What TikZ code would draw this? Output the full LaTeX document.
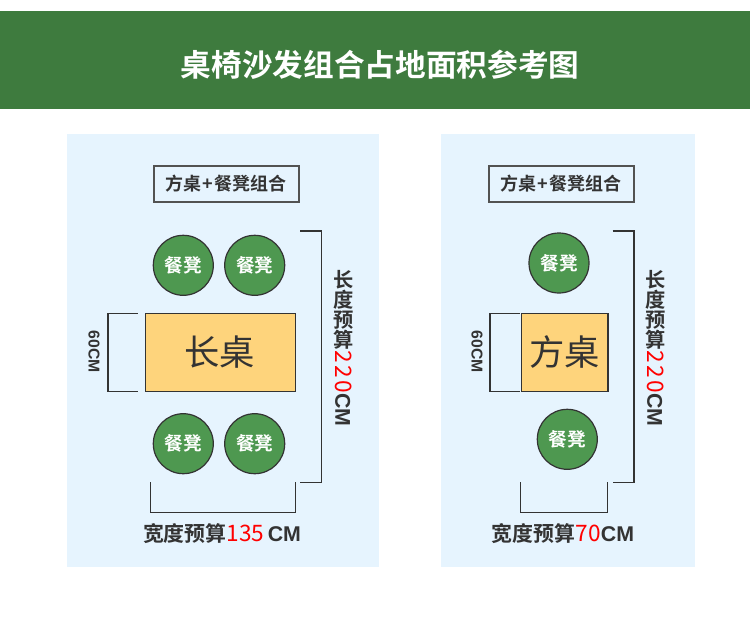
\documentclass[tikz,border=0pt]{standalone}
\usepackage{fontspec}
\newfontfamily\cjkb{Noto Sans CJK SC Bold}
\newfontfamily\cjkr{Noto Sans CJK SC}
\newfontfamily\latr{Liberation Sans}
\definecolor{hdr}{HTML}{3E7B3E}
\definecolor{pnl}{HTML}{E6F4FE}
\definecolor{grn}{HTML}{4E9850}
\definecolor{tbl}{HTML}{FED47C}
\definecolor{ink}{HTML}{333333}
\definecolor{redn}{HTML}{FF0000}
\tikzset{
 panel/.style={fill=pnl,draw=none,minimum width=#1,minimum height=433*0.75pt,inner sep=0pt,outer sep=0pt,anchor=north west},
 titlebox/.style={draw=ink!85,line width=1.2pt,minimum width=145*0.75pt,minimum height=36*0.75pt,inner sep=0pt,outer sep=0pt,text=ink,font=\cjkb\fontsize{13.5pt}{14pt}\selectfont},
 stool/.style={circle,draw=ink,line width=0.9pt,fill=grn,minimum size=60*0.75pt,inner sep=0pt,outer sep=0pt,text=white,font=\cjkb\fontsize{14pt}{14pt}\selectfont},
 tabletop/.style={draw=ink,line width=0.9pt,fill=tbl,inner sep=0pt,outer sep=0pt,anchor=north west,minimum height=78.5*0.75pt,text=ink,font=\cjkr\fontsize{26.5pt}{27pt}\selectfont},
 brk/.style={draw=ink,line width=1pt},
 lbl/.style={text=ink,inner sep=0pt,font=\cjkb\fontsize{15.7pt}{16pt}\selectfont},
 stacked/.style={text=ink,inner sep=0pt,align=center,font=\cjkb\fontsize{15.2pt}{15pt}\selectfont},
 small/.style={text=ink,inner sep=0pt,rotate=-90,font=\latr\bfseries\fontsize{11.8pt}{12pt}\selectfont},
}
\newcommand{\rd}[1]{{\cjkr\fontsize{17pt}{17pt}\selectfont\color{redn}#1}}
\newcommand{\cmb}{{\latr\bfseries\fontsize{16pt}{16pt}\selectfont CM}}
\newcommand{\dgap}{\kern1.7pt}
\begin{document}
\begin{tikzpicture}[x=0.75pt,y=-0.75pt]
\useasboundingbox (0,0) rectangle (750,640);
\fill[white] (0,0) rectangle (750,640);
\node[fill=hdr,minimum width=750*0.75pt,minimum height=98*0.75pt,inner sep=0pt,outer sep=0pt,anchor=north west] (header) at (0,11) {};
\node[text=white,inner sep=0pt,font=\cjkb\fontsize{23pt}{24pt}\selectfont] (title) at (380,64.5) {桌椅沙发组合占地面积参考图};
% left panel
\node[panel=312*0.75pt] (pa) at (67,134) {};
\node[titlebox] (ta) at (226.2,183.7) {方桌\kern1pt+\kern1pt餐凳组合};
\node[stool] (a1) at (183.3,265.3) {餐凳};
\node[stool] (a2) at (254.7,265.3) {餐凳};
\node[stool] (a3) at (183.3,443.7) {餐凳};
\node[stool] (a4) at (254.7,443.7) {餐凳};
\node[tabletop,minimum width=150*0.75pt] (ka) at (145.7,313.3) {\raisebox{2.5pt}{长桌}\kern1.5pt};
\coordinate (a1s) at (137.7,313.3);
\coordinate (a1e) at (137.7,391.5);
\draw[brk] (a1s) -- (108,313.3) -- (108,391.5) -- (a1e);
\coordinate (a2s) at (300,231);
\coordinate (a2e) at (300,482.7);
\draw[brk] (a2s) -- (321.7,231) -- (321.7,482.7) -- (a2e);
\coordinate (a3s) at (150.7,482.3);
\coordinate (a3e) at (295.3,482.3);
\draw[brk] (a3s) -- (150.7,512.3) -- (295.3,512.3) -- (a3e);
\node[small] (sa) at (94,351.7) {60CM};
\node[stacked] (va) at (343.5,310) {长\\度\\预\\算};
\node[lbl,rotate=-90] (vaa) at (343.5,388.5) {\rd{2\dgap 2\dgap 0}\cmb};
\node[lbl] (ba) at (222,534) {宽度预算\rd{135}\kern2.5pt\cmb};
% right panel
\node[panel=254.3*0.75pt] (pb) at (440.7,134) {};
\node[titlebox] (tb) at (561.2,183.7) {方桌\kern1pt+\kern1pt餐凳组合};
\node[stool] (b1) at (559,263) {餐凳};
\node[stool] (b2) at (567.3,439.3) {餐凳};
\node[tabletop,minimum width=86.3*0.75pt] (kb) at (521.7,313.3) {\raisebox{2.5pt}{方桌}};
\coordinate (b1s) at (520,313.3);
\coordinate (b1e) at (520,391.5);
\draw[brk] (b1s) -- (490,313.3) -- (490,391.5) -- (b1e);
\coordinate (b2s) at (612.7,231);
\coordinate (b2e) at (612.7,482.7);
\draw[brk] (b2s) -- (634,231) -- (634,482.7) -- (b2e);
\coordinate (b3s) at (520.3,482.3);
\coordinate (b3e) at (607.3,482.3);
\draw[brk] (b3s) -- (520.3,512.3) -- (607.3,512.3) -- (b3e);
\node[small] (sb) at (477,351.7) {60CM};
\node[stacked] (vb) at (655.5,310) {长\\度\\预\\算};
\node[lbl,rotate=-90] (vbb) at (655.5,388.5) {\rd{2\dgap 2\dgap 0}\cmb};
\node[lbl] (bb) at (563,534) {宽度预算\rd{70}\cmb};
\end{tikzpicture}
\end{document}
